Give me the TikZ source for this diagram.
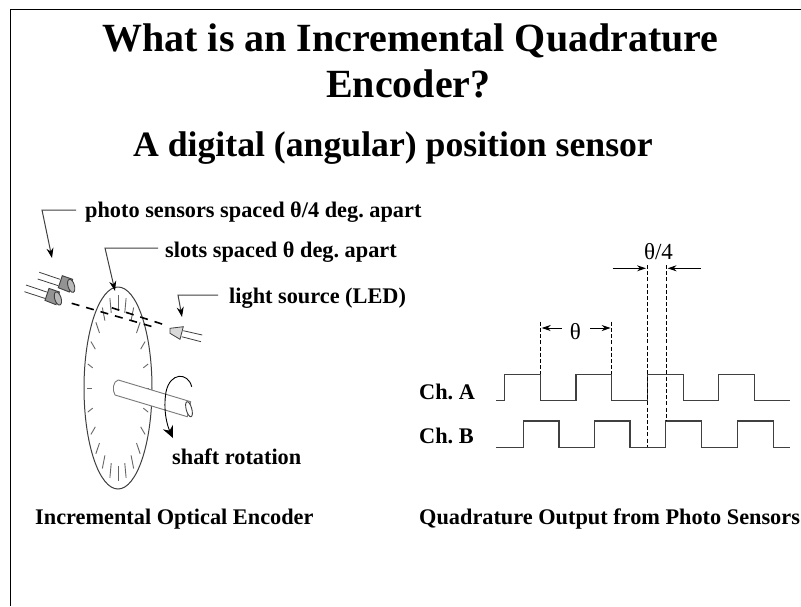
\documentclass[tikz,border=0pt]{standalone}
\usepackage{fontspec}
\setmainfont{Liberation Serif}
\usetikzlibrary{arrows.meta,calc}
\definecolor{ln}{gray}{0.25}
\frenchspacing
\tikzset{
 x=1pt,y=-1pt,
 lbl/.style={inner sep=0pt,anchor=base west,font=\fontsize{22.3}{26}\selectfont\bfseries},
 head/.style={inner sep=0pt,anchor=base,font=\fontsize{40}{44}\selectfont\bfseries},
 thl/.style={inner sep=0pt,font=\fontsize{23}{26}\selectfont},
 lead/.style={draw=ln,line width=1pt,-{Stealth[length=10pt,width=7pt,black]}},
 wave/.style={draw=ln,line width=1.2pt},
 vdash/.style={draw=black,line width=0.8pt,dash pattern=on 4pt off 2.2pt},
 dim/.style={draw=black,line width=1pt,-{Stealth[length=9pt,width=6pt]}},
 wire/.style={draw=ln,line width=0.8pt},
 beam/.style={draw=black,line width=1.6pt,dash pattern=on 8pt off 7pt},
 tick/.style={draw=ln!80,line width=0.9pt},
}
\begin{document}
\begin{tikzpicture}
\useasboundingbox (0,0) rectangle (801,606);
\fill[white] (0,0) rectangle (801,606);
\draw[black,line width=1.1pt] (801,9.5) -- (10.5,9.5) -- (10.5,606);
\node[head] (t1) at (410.5,51) {What is an Incremental Quadrature};
\node[head] (t2) at (408.5,97) {Encoder?};
\node[head,font=\fontsize{35.7}{40}\selectfont\bfseries] (t3) at (393,156) {A digital (angular) position sensor};
% labels
\node[lbl] (lp) at (85,217) {photo sensors spaced θ/4 deg. apart};
\node[lbl] (ls) at (165,257) {slots spaced θ deg. apart};
\node[lbl] (ll) at (229,303) {light source (LED)};
\node[lbl] (lr) at (172,464) {shaft rotation};
\node[lbl] (le) at (35,524) {Incremental Optical Encoder};
\node[lbl] (lq) at (419,524) {Quadrature Output from Photo Sensors};
\node[lbl] (ca) at (419,399) {Ch. A};
\node[lbl] (cb) at (419,443) {Ch. B};
\node[thl] (th4) at (658.5,252) {θ/4};
\node[thl] (th) at (575.5,332) {θ};
% disc
\coordinate (disc) at (118,388);
\draw[ln,line width=1pt] (disc) ellipse [x radius=34,y radius=101];
\foreach \a in {0,15,...,345}{
 \draw[tick] ($(118,388)+({34*0.77*cos(\a)},{101*0.77*sin(\a)})$) -- ($(118,388)+({34*0.92*cos(\a)},{101*0.92*sin(\a)})$);
}
% shaft
\coordinate (s1) at (118.3,380);
\coordinate (s2) at (190.7,401.7);
\coordinate (s3) at (187.3,416.7);
\coordinate (s4) at (115,395);
\draw[ln!70,fill=white,line width=0.9pt] (s1) -- (s2) -- (s3) -- (s4) .. controls (112,390) and (113,381) .. (s1) -- cycle;
\draw[ln,fill=white,line width=0.9pt] (189,409.2) ellipse [x radius=2.8,y radius=7.8,rotate=15];
% rotation arrow
\coordinate (r1) at (191.7,386.7);
\coordinate (r2) at (173,438);
\draw[black,line width=0.9pt,-{Stealth[length=12pt,width=11pt]}] (r1) .. controls (188,372) and (170,372) .. (166,392) .. controls (163,410) and (167,425) .. (r2);
% sensors
\foreach \dx/\dy in {0/0,-13.3/12.7}{
 \begin{scope}[shift={(\dx,\dy)}]
 \draw[wire] (39.3,272.3) -- (60,279.3);
 \draw[wire] (37.7,279) -- (58.3,285.7);
 \draw[ln,line width=0.9pt,fill=gray!85] (62.3,275.7) -- (72.7,279.3) -- (69.3,292) -- (58.3,287.7) -- cycle;
 \draw[ln,line width=0.9pt,fill=gray!55] (71.2,285.8) ellipse [x radius=3.2,y radius=6.8,rotate=17];
 \end{scope}
}
% beams
\coordinate (b1) at (71.7,303.3);
\coordinate (b2) at (158,328.3);
\coordinate (b3) at (111.7,307.7);
\coordinate (b4) at (165,325);
\draw[beam] (b1) -- (b2);
\draw[beam] (b3) -- (b4);
% LED
\draw[ln,line width=0.8pt,fill=gray!30] (170,328.3) -- (183.3,326.7) -- (180,339.3) -- (170,333.3) -- cycle;
\draw[wire] (183.3,330.7) -- (202.3,335);
\draw[wire] (181.7,336.7) -- (201,341.7);
% callouts
\coordinate (p1) at (76,210); \coordinate (p2) at (42,210); \coordinate (p3) at (52,258);
\draw[lead] (p1) -- (p2) -- (p3);
\coordinate (q1) at (158,248); \coordinate (q2) at (105,248); \coordinate (q3) at (115,291);
\draw[lead] (q1) -- (q2) -- (q3);
\coordinate (u1) at (218,295); \coordinate (u2) at (178,295); \coordinate (u3) at (182,317);
\draw[lead] (u1) -- (u2) -- (u3);
% waves
\coordinate (wa) at (496,400.3); \coordinate (wb) at (496,447.3);
\draw[wave] (wa) -- (504.3,400.3) -- (504.3,374.3) -- (540.7,374.3) -- (540.7,400.3) -- (576,400.3) -- (576,374.3) -- (611.7,374.3) -- (611.7,400.3) -- (647.3,400.3) -- (647.3,374.3) -- (683.3,374.3) -- (683.3,400.3) -- (718.7,400.3) -- (718.7,374.3) -- (754.3,374.3) -- (754.3,400.3) -- (790,400.3);
\draw[wave] (wb) -- (523.3,447.3) -- (523.3,421) -- (559,421) -- (559,447.3) -- (594.7,447.3) -- (594.7,421) -- (630,421) -- (630,447.3) -- (665.7,447.3) -- (665.7,421) -- (701.7,421) -- (701.7,447.3) -- (737.3,447.3) -- (737.3,421) -- (773.3,421) -- (773.3,447.3) -- (790,447.3);
% dashed guides
\coordinate (d1) at (540.7,321.7); \coordinate (d1e) at (540.7,374.3);
\coordinate (d2) at (611.7,321.7); \coordinate (d2e) at (611.7,374.3);
\coordinate (d3) at (647.6,265); \coordinate (d3e) at (647.6,447.3);
\coordinate (d4) at (666.7,265); \coordinate (d4e) at (666.7,421);
\draw[vdash] (d1) -- (d1e);
\draw[vdash] (d2) -- (d2e);
\draw[vdash] (d3) -- (d3e);
\draw[vdash] (d4) -- (d4e);
% dimension arrows
\coordinate (e1) at (561.7,328); \coordinate (e2) at (541.7,328);
\coordinate (e3) at (590,328); \coordinate (e4) at (610.7,328);
\coordinate (e5) at (612.7,268.3); \coordinate (e6) at (646,268.3);
\coordinate (e7) at (700.7,268.3); \coordinate (e8) at (667.6,268.3);
\draw[dim] (e1) -- (e2);
\draw[dim] (e3) -- (e4);
\draw[dim] (e5) -- (e6);
\draw[dim] (e7) -- (e8);
\end{tikzpicture}
\end{document}
